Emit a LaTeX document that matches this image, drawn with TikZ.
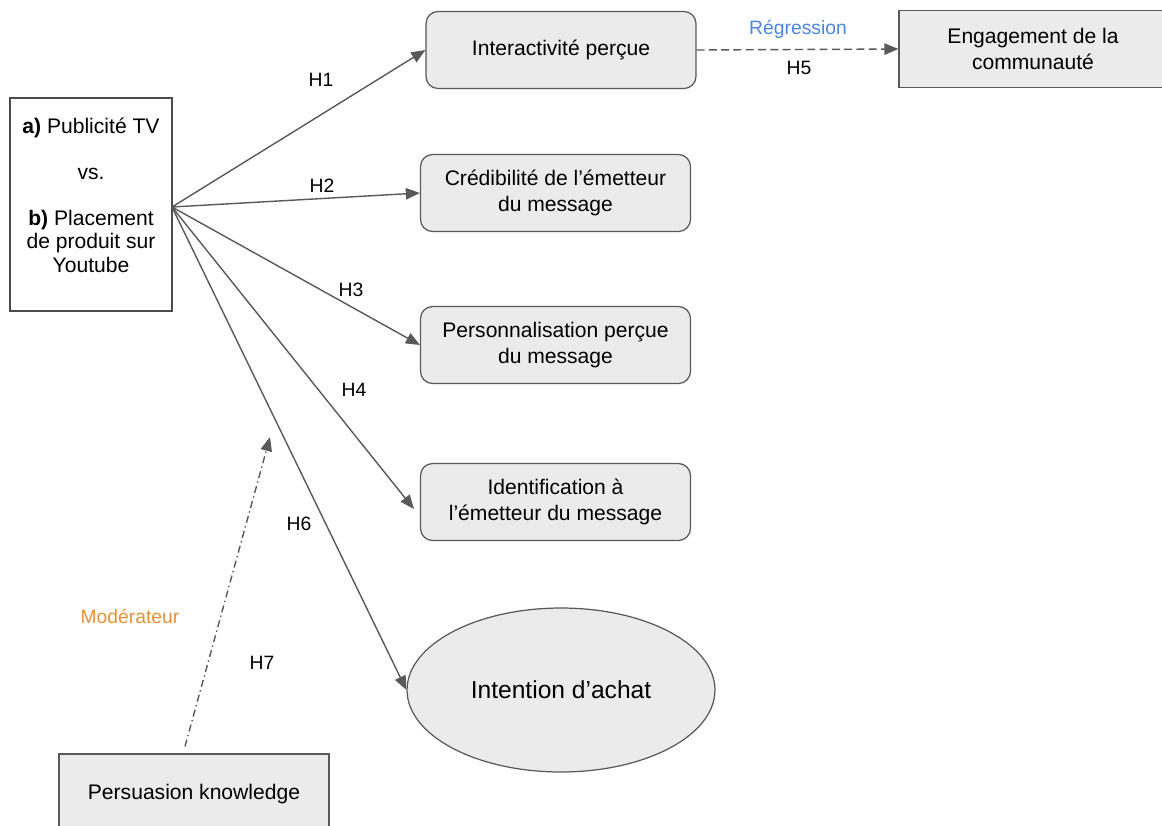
\documentclass[tikz,border=0pt]{standalone}
\usepackage{fontspec}
\setmainfont{Liberation Sans}
\usetikzlibrary{arrows.meta, shapes.geometric}

\definecolor{linegray}{HTML}{595959}
\definecolor{boxfill}{HTML}{EBEBEB}
\definecolor{regblue}{HTML}{4A86E8}
\definecolor{modorange}{HTML}{E69138}

\begin{document}
\begin{tikzpicture}[x=0.02cm, y=-0.02cm,
	>={Triangle[length=8pt,width=6.5pt]},
	box/.style={draw=linegray, fill=boxfill, line width=0.7pt, align=center, inner sep=0pt,
		minimum width=5.4cm, minimum height=1.54cm, font=\fontsize{12}{15}\selectfont},
	roundbox/.style={box, rounded corners=0.24cm},
	srcbox/.style={draw=black!70, line width=0.7pt, inner sep=0pt, minimum width=3.24cm,
		minimum height=4.26cm, font=\fontsize{12}{13.5}\selectfont},
	hyp/.style={font=\fontsize{11}{13}\selectfont},
	link/.style={draw=linegray, line width=0.8pt, ->}
	]
	\useasboundingbox (0,0) rectangle (1162,825);

	\node[srcbox] (src) at (91,204.5) {\raisebox{0pt}[\height][\dimexpr\depth+7pt\relax]{%
		\begin{tabular}{@{}c@{}}\textbf{a)} Publicité TV\\[12.5pt] vs.\\[12.5pt] \textbf{b)} Placement\\ de produit sur\\ Youtube\end{tabular}}};
	\node[roundbox] (inter) at (561,50) {Interactivité perçue};
	\node[box, minimum width=5.36cm] (eng) at (1033,49) {Engagement de la\\communauté};
	\node[roundbox] (cred) at (555.5,193) {Crédibilité de l’émetteur\\du message};
	\node[roundbox] (perso) at (555.5,345) {Personnalisation perçue\\du message};
	\node[roundbox] (ident) at (555.5,502) {Identification à\\l’émetteur du message};
	\node[ellipse, draw=linegray, fill=boxfill, line width=0.7pt, minimum width=6.16cm, minimum height=3.28cm,
		inner sep=0pt, font=\fontsize{14}{16}\selectfont] (achat) at (561,690) {Intention d’achat};
	\node[box, minimum height=1.6cm] (pk) at (194,794) {Persuasion knowledge};

	\coordinate (hub) at (172,207);
	\coordinate (modtip) at (270,437);

	\path
		(hub) edge[link] (inter.west)
		(hub) edge[link] (cred.west)
		(hub) edge[link] (perso.west)
		(hub) edge[link] ([shift={(-6,7)}]ident.west)
		(hub) edge[link] (achat.west)
		;
	\draw [link, dash pattern=on 4.5pt off 2.5pt] (inter.east) -- (eng.west);
	\draw [link, dash pattern=on 4pt off 2pt on 0.8pt off 2pt] ([shift={(-9,-7)}]pk.north) -- (modtip);

	\node[hyp] (h1) at (321,80) {H1};
	\node[hyp] (h2) at (322,186) {H2};
	\node[hyp] (h3) at (351,290) {H3};
	\node[hyp] (h4) at (354,390) {H4};
	\node[hyp] (h5) at (799,68) {H5};
	\node[hyp] (h6) at (299,524) {H6};
	\node[hyp] (h7) at (262,663) {H7};
	\node[hyp, text=regblue] (reg) at (798,29) {Régression};
	\node[hyp, text=modorange] (mod) at (130,616) {Modérateur};
\end{tikzpicture}
\end{document}
